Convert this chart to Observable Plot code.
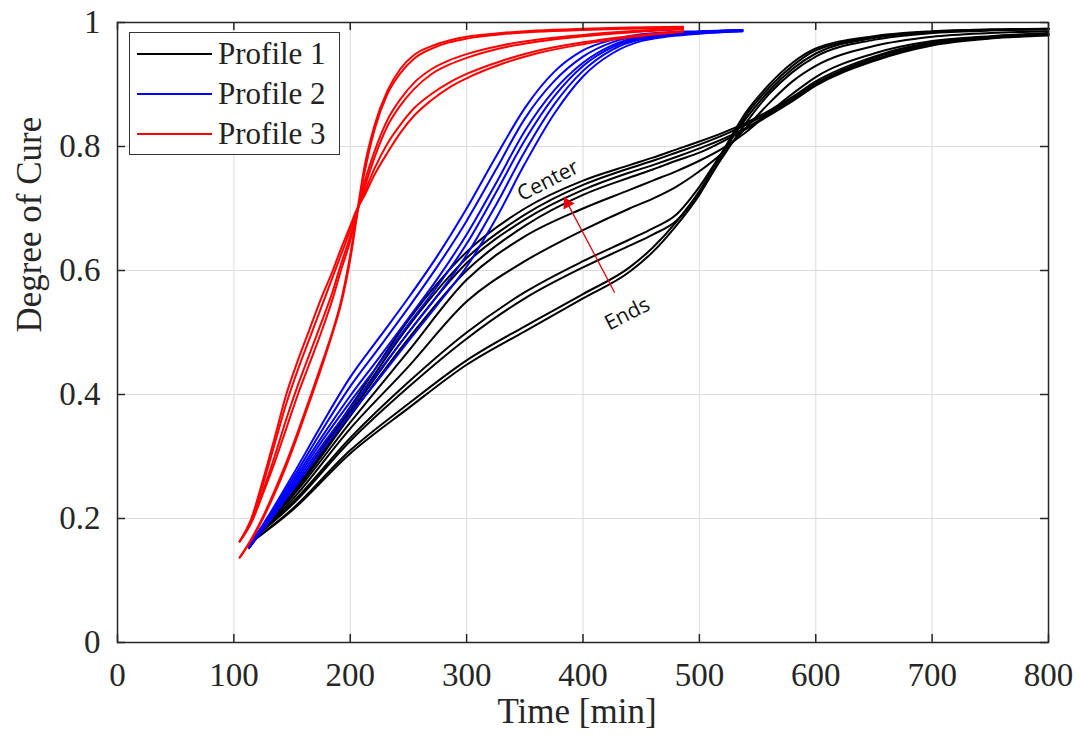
<!DOCTYPE html>
<html><head><meta charset="utf-8">
<script src="https://cdn.jsdelivr.net/npm/d3@7"></script>
<script src="https://cdn.jsdelivr.net/npm/@observablehq/plot@0.6"></script>
<style>
html,body{margin:0;padding:0;background:#fff;}
#wrap{position:relative;width:1083px;height:749px;overflow:hidden;}
#legend{position:absolute;left:129px;top:32px;width:211px;height:123px;border:1.5px solid #333;background:#fff;box-sizing:border-box;font-family:"Liberation Serif",serif;font-size:31px;color:#222;}
.row{position:absolute;left:0;height:40px;display:flex;align-items:center;white-space:nowrap;}
.sw{width:75px;height:0;border-top:2px solid;margin-left:7px;margin-right:6px;}
</style></head><body><div id="wrap"></div>
<script>
// ---- data ----
const profileNames = ["Profile 1", "Profile 2", "Profile 3"];
const profileColors = ["#000000", "#0000ff", "#ff0000"];
const xTicks = [0, 100, 200, 300, 400, 500, 600, 700, 800];
const yTicks = [0, 0.2, 0.4, 0.6, 0.8, 1];
const xLabel = "Time [min]";
const yLabel = "Degree of Cure";

// Profile 1 (black)
const p1Time = [115,150,200,250,300,350,400,440,460,480,500,520,540,560,580,600,650,700,750,800];
const p1Series = [
  [.165,.245,.38,.52,.63,.70,.745,.77,.782,.795,.808,.822,.838,.858,.88,.905,.945,.968,.977,.982],
  [.165,.243,.375,.51,.62,.69,.738,.765,.777,.79,.803,.818,.835,.855,.878,.902,.943,.966,.976,.981],
  [.165,.24,.37,.50,.612,.682,.73,.758,.77,.783,.797,.812,.83,.852,.875,.90,.94,.965,.975,.98],
  [.165,.238,.365,.49,.60,.672,.722,.75,.763,.777,.79,.808,.828,.85,.873,.898,.938,.963,.974,.979],
  [.165,.235,.355,.47,.585,.655,.70,.73,.745,.76,.777,.797,.823,.855,.885,.912,.95,.97,.978,.983],
  [.165,.23,.345,.445,.55,.615,.665,.70,.716,.735,.76,.79,.83,.87,.905,.93,.962,.977,.983,.986],
  [.165,.225,.33,.42,.50,.565,.615,.65,.668,.69,.735,.792,.845,.89,.925,.95,.975,.985,.988,.99],
  [.165,.222,.325,.412,.49,.555,.605,.64,.658,.68,.725,.783,.838,.885,.92,.945,.972,.983,.987,.989],
  [.162,.215,.31,.385,.455,.51,.562,.605,.637,.678,.728,.792,.855,.90,.935,.958,.978,.986,.989,.99],
  [.162,.213,.305,.378,.448,.502,.555,.598,.63,.672,.722,.787,.85,.895,.93,.955,.976,.985,.988,.989]
];

// Profile 2 (blue)
const p2Time = [113,130,150,175,200,225,250,275,300,325,350,375,400,425,450,500,537];
const p2Series = [
  [.155,.205,.268,.35,.428,.492,.556,.624,.70,.783,.862,.92,.955,.972,.981,.986,.988],
  [.154,.203,.262,.34,.413,.476,.54,.607,.68,.762,.845,.905,.945,.968,.979,.985,.988],
  [.153,.20,.257,.33,.398,.46,.523,.587,.658,.74,.825,.89,.935,.963,.977,.985,.987],
  [.153,.198,.253,.323,.388,.45,.513,.575,.643,.725,.81,.88,.93,.96,.975,.984,.987],
  [.152,.196,.249,.316,.378,.438,.50,.56,.625,.705,.792,.867,.922,.956,.973,.983,.986],
  [.152,.194,.245,.308,.368,.426,.486,.545,.606,.683,.772,.852,.913,.95,.97,.982,.986]
];

// Profile 3 (red)
const p3Time = [105,115,125,135,145,155,165,175,185,192,200,206,212,221,232,243,255,270,285,300,330,360,400,440,486];
const p3Series = [
  [.137,.167,.203,.245,.29,.34,.393,.447,.503,.55,.625,.695,.765,.835,.89,.925,.948,.962,.971,.977,.983,.987,.99,.992,.993],
  [.137,.165,.20,.24,.285,.335,.388,.442,.50,.545,.618,.69,.755,.828,.885,.918,.942,.958,.968,.974,.981,.985,.988,.99,.992],
  [.163,.193,.24,.29,.345,.40,.45,.50,.555,.60,.648,.695,.74,.793,.843,.876,.903,.925,.939,.949,.963,.972,.98,.986,.99],
  [.163,.195,.245,.30,.36,.415,.465,.515,.567,.61,.655,.695,.732,.783,.833,.866,.893,.917,.932,.943,.959,.969,.978,.984,.989],
  [.163,.198,.255,.32,.385,.44,.49,.54,.59,.625,.665,.698,.725,.765,.805,.835,.862,.885,.903,.917,.938,.954,.968,.978,.986],
  [.163,.20,.262,.33,.40,.455,.505,.555,.60,.635,.672,.70,.72,.755,.79,.822,.85,.875,.895,.91,.933,.95,.965,.976,.985]
];

// annotations (data coordinates)
const noteLabels = ["Center", "Ends"];
const noteX = [370, 438];
const noteY = [0.745, 0.53];
const arrowFrom = [427, 0.565];
const arrowTo = [384, 0.718];

// ---- build ----
const profiles = [
  {time: p1Time, series: p1Series},
  {time: p2Time, series: p2Series},
  {time: p3Time, series: p3Series}
];
const rows = profiles.flatMap((p, pi) => p.series.flatMap((s, si) =>
  s.map((v, i) => ({profile: profileNames[pi], id: pi + "-" + si, t: p.time[i], v}))));
const notes = noteLabels.map((label, i) => ({label, x: noteX[i], y: noteY[i]}));
const arrows = [{x1: arrowFrom[0], y1: arrowFrom[1], x2: arrowTo[0], y2: arrowTo[1]}];

const W = 1083, H = 749, mL = 117, mR = 35, mT = 22, mB = 107;
const tickPx = 8;
const xPerPx = 800 / (W - mL - mR), yPerPx = 1 / (H - mT - mB);
const ink = "#262626";

const chart = Plot.plot({
  width: W, height: H,
  marginLeft: mL, marginRight: mR, marginTop: mT, marginBottom: mB,
  x: {domain: [0, 800]},
  y: {domain: [0, 1]},
  color: {domain: profileNames, range: profileColors},
  style: {fontFamily: "'Liberation Serif', 'Times New Roman', serif", fontSize: "33px", color: ink, background: "#fff", overflow: "visible"},
  marks: [
    Plot.ruleX(xTicks.slice(1, -1), {stroke: "#dcdcdc", strokeWidth: 1}),
    Plot.ruleY(yTicks.slice(1, -1), {stroke: "#dcdcdc", strokeWidth: 1}),
    Plot.line(rows, {x: "t", y: "v", z: "id", stroke: "profile", strokeWidth: 2, curve: "monotone-x"}),
    Plot.frame({stroke: ink, strokeWidth: 1.5}),
    Plot.ruleX(xTicks, {y1: 0, y2: tickPx * yPerPx, stroke: ink, strokeWidth: 1.5}),
    Plot.ruleX(xTicks, {y1: 1, y2: 1 - tickPx * yPerPx, stroke: ink, strokeWidth: 1.5}),
    Plot.ruleY(yTicks, {x1: 0, x2: tickPx * xPerPx, stroke: ink, strokeWidth: 1.5}),
    Plot.ruleY(yTicks, {x1: 800, x2: 800 - tickPx * xPerPx, stroke: ink, strokeWidth: 1.5}),
    Plot.axisX(xTicks, {tickSize: 0, tickPadding: 20, label: null, fontSize: 33, fill: ink}),
    Plot.axisY(yTicks, {tickSize: 0, tickPadding: 17, label: null, fontSize: 33, fill: ink, tickFormat: d => String(d)}),
    Plot.text([xLabel], {frameAnchor: "bottom", dy: 80, dx: -6, fontSize: 35, fill: ink}),
    Plot.text([yLabel], {frameAnchor: "left", dx: -88, rotate: -90, fontSize: 35, fill: ink}),
    Plot.arrow(arrows, {x1: "x1", y1: "y1", x2: "x2", y2: "y2", stroke: "#e8000b", strokeWidth: 1.3, headLength: 0}),
    Plot.dot(arrows, {x: "x2", y: "y2", symbol: "triangle2", r: 6, fill: "#e8000b", rotate: -28, dx: 3, dy: 6}),
    Plot.text(notes, {x: "x", y: "y", text: "label", rotate: -27, fontSize: 21, fontFamily: "'Open Sans', sans-serif", fill: "#111"})
  ]
});

const wrap = document.getElementById("wrap");
wrap.appendChild(chart);

// legend overlay
const legend = document.createElement("div");
legend.id = "legend";
profileNames.forEach((name, i) => {
  const row = document.createElement("div");
  row.className = "row";
  row.style.top = (1 + i * 40) + "px";
  const sw = document.createElement("span");
  sw.className = "sw";
  sw.style.borderTopColor = profileColors[i];
  const lab = document.createElement("span");
  lab.textContent = name;
  row.appendChild(sw);
  row.appendChild(lab);
  legend.appendChild(row);
});
wrap.appendChild(legend);
</script></body></html>
